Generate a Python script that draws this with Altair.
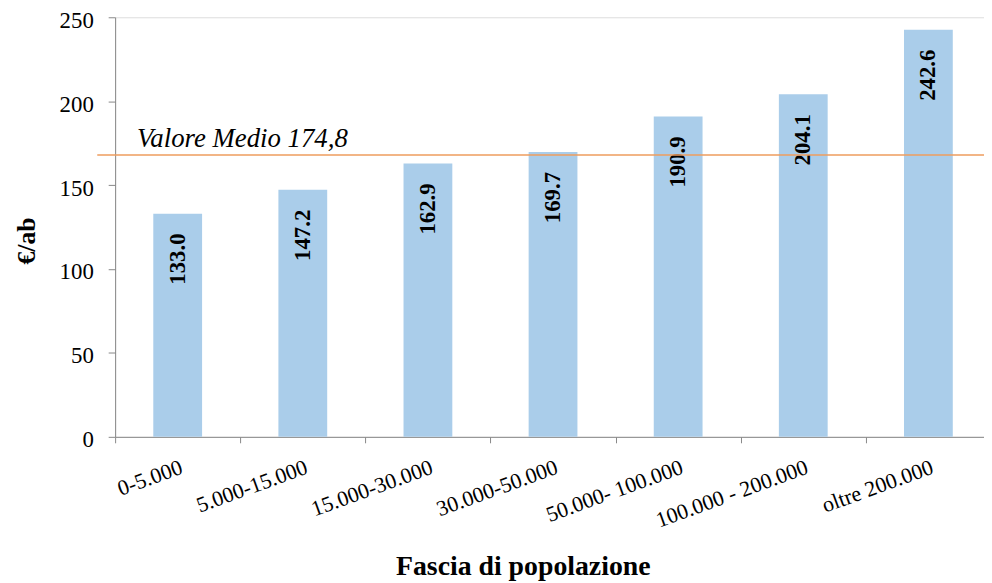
import altair as alt
import pandas as pd

categories = ["0-5.000", "5.000-15.000", "15.000-30.000", "30.000-50.000",
              "50.000- 100.000", "100.000 - 200.000", "oltre 200.000"]
values = [133.0, 147.2, 162.9, 169.7, 190.9, 204.1, 242.6]
mean_line_value = 168.0
mean_label = "Valore Medio 174,8"

df = pd.DataFrame({"cat": categories, "val": values,
                   "lab": [f"{v:.1f}" for v in values]})

W, H = 883, 423   # plot continues slightly past the right edge, as in the reference
SERIF = "Liberation Serif"

x = alt.X("cat:N", sort=categories, title="Fascia di popolazione",
          scale=alt.Scale(paddingInner=0, paddingOuter=0),
          axis=alt.Axis(labelAngle=-20, labelAlign="right", labelBaseline="top",
                        labelFontSize=22, labelFont=SERIF, labelColor="#000",
                        labelPadding=14, tickSize=6, tickBand="extent",
                        domainColor="#888", tickColor="#888",
                        titleFont=SERIF, titleFontSize=28, titleFontWeight="bold",
                        titleX=411, titleY=139, titleBaseline="alphabetic",
                        titleAlign="center", titleColor="#000"))
y = alt.Y("val:Q", title="€/ab",
          scale=alt.Scale(domain=[0, 250], nice=False),
          axis=alt.Axis(values=[0, 50, 100, 150, 200, 250], grid=False,
                        labelFontSize=23, labelFont=SERIF, labelColor="#000",
                        labelPadding=15, tickSize=7, labelOffset=3,
                        domainColor="#888", tickColor="#888",
                        titleFont=SERIF, titleFontSize=26, titleFontWeight="bold",
                        titleAngle=270, titleX=-89, titleY=225,
                        titleAlign="center", titleBaseline="middle",
                        titleColor="#000"))

bars = alt.Chart(df).mark_bar(color="#AACDEA",
                              width=alt.RelativeBandSize(0.39)).encode(x=x, y=y)

labels = alt.Chart(df).mark_text(angle=270, align="right", baseline="middle",
                                 dx=-20, font=SERIF, fontSize=23,
                                 fontWeight="bold", color="#000").encode(
    x=alt.X("cat:N", sort=categories), y="val:Q", text="lab:N")

line_df = pd.DataFrame({"v": [mean_line_value], "t": [mean_label]})
rule = alt.Chart(line_df).mark_rule(color="#EE9C5E", strokeWidth=1.5).encode(
    y="v:Q", x=alt.value(-18), x2=alt.value(W))
line_text = alt.Chart(line_df).mark_text(align="left", baseline="alphabetic",
                                         dy=-8, font=SERIF, fontSize=27,
                                         fontStyle="italic", color="#000").encode(
    y="v:Q", x=alt.value(22), text="t:N")

chart = alt.layer(bars, labels, rule, line_text).properties(
    width=W, height=H,
    autosize=alt.AutoSizeParams(type="none"),
    padding={"left": 108, "top": 7, "right": -7, "bottom": 145},
).configure_view(stroke=None).configure(background="white")

chart.save("out.html", embed_options={"renderer": "svg", "actions": False})
